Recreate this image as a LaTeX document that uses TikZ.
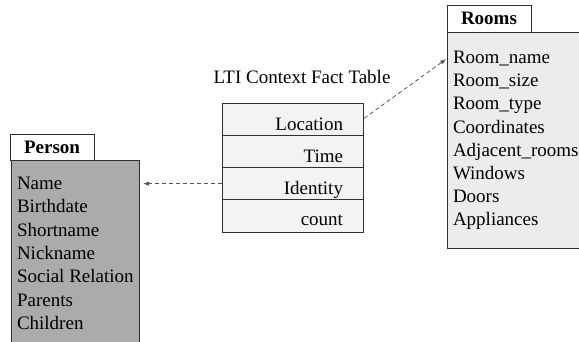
\documentclass[tikz,border=0pt]{standalone}
\usepackage{fontspec}
\setmainfont{Liberation Serif}
\usetikzlibrary{arrows.meta}
\definecolor{personfill}{HTML}{ABABAB}
\definecolor{roomfill}{HTML}{ECECEC}
\definecolor{factfill}{HTML}{F3F3F3}
\definecolor{edgecol}{HTML}{303030}
\definecolor{linkcol}{HTML}{555555}

\begin{document}
\begin{tikzpicture}[x=1pt,y=-1pt,
  every node/.style={font=\fontsize{19}{23}\selectfont, inner sep=0pt, outer sep=0pt},
  box/.style={draw=edgecol, line width=0.9pt, rectangle, anchor=north west},
  headbox/.style={box, fill=white, font=\fontsize{19}{23}\selectfont\bfseries},
  item/.style={anchor=base west},
  fact/.style={anchor=base east},
  link/.style={draw=linkcol, dash pattern=on 4pt off 3pt, line width=0.8pt,
    -{Latex[length=6pt,width=4.5pt]}}]

  \useasboundingbox (0,0) rectangle (579,341);
  \clip (0,0) rectangle (579,341);

  % Person entity
  \node[box, fill=personfill, minimum width=128, minimum height=200] (personbody) at (11,160) {};
  \node[headbox, minimum width=84, minimum height=26] (personhead) at (10,134) {Person};
  \foreach \t [count=\i from 0] in {Name,Birthdate,Shortname,Nickname,Social Relation,Parents,Children}
    \node[item] (pp\i) at (17,189.5+23.3*\i) {\t};

  % Rooms entity
  \node[box, fill=roomfill, minimum width=160, minimum height=216] (roomsbody) at (447,32) {};
  \node[headbox, minimum width=84, minimum height=27] (roomshead) at (447,5) {Rooms};
  \foreach \t [count=\i from 0] in {Room\_name,Room\_size,Room\_type,Coordinates,Adjacent\_rooms,Windows,Doors,Appliances}
    \node[item] (rm\i) at (453,63.5+23.2*\i) {\t};

  % Fact table
  \node (title) at (302,77) {LTI Context Fact Table};
  \foreach \i in {1,...,4}
    \node[box, fill=factfill, minimum width=141, minimum height=32.25] (row\i) at (222,103+32.25*\i-32.25) {};
  \node[fact] (f1) at (343,130) {Location};
  \node[fact] (f2) at (343,162) {Time};
  \node[fact] (f3) at (343,194) {Identity};
  \node[fact] (f4) at (343,225) {count};

  % Links
  \draw[link, shorten <=1.5pt, shorten >=1pt] (row1.east) -- (roomsbody.west |- rm0.west);
  \draw[link, shorten >=4pt] (row3.west) -- (row3.west -| personbody.east);
\end{tikzpicture}
\end{document}
